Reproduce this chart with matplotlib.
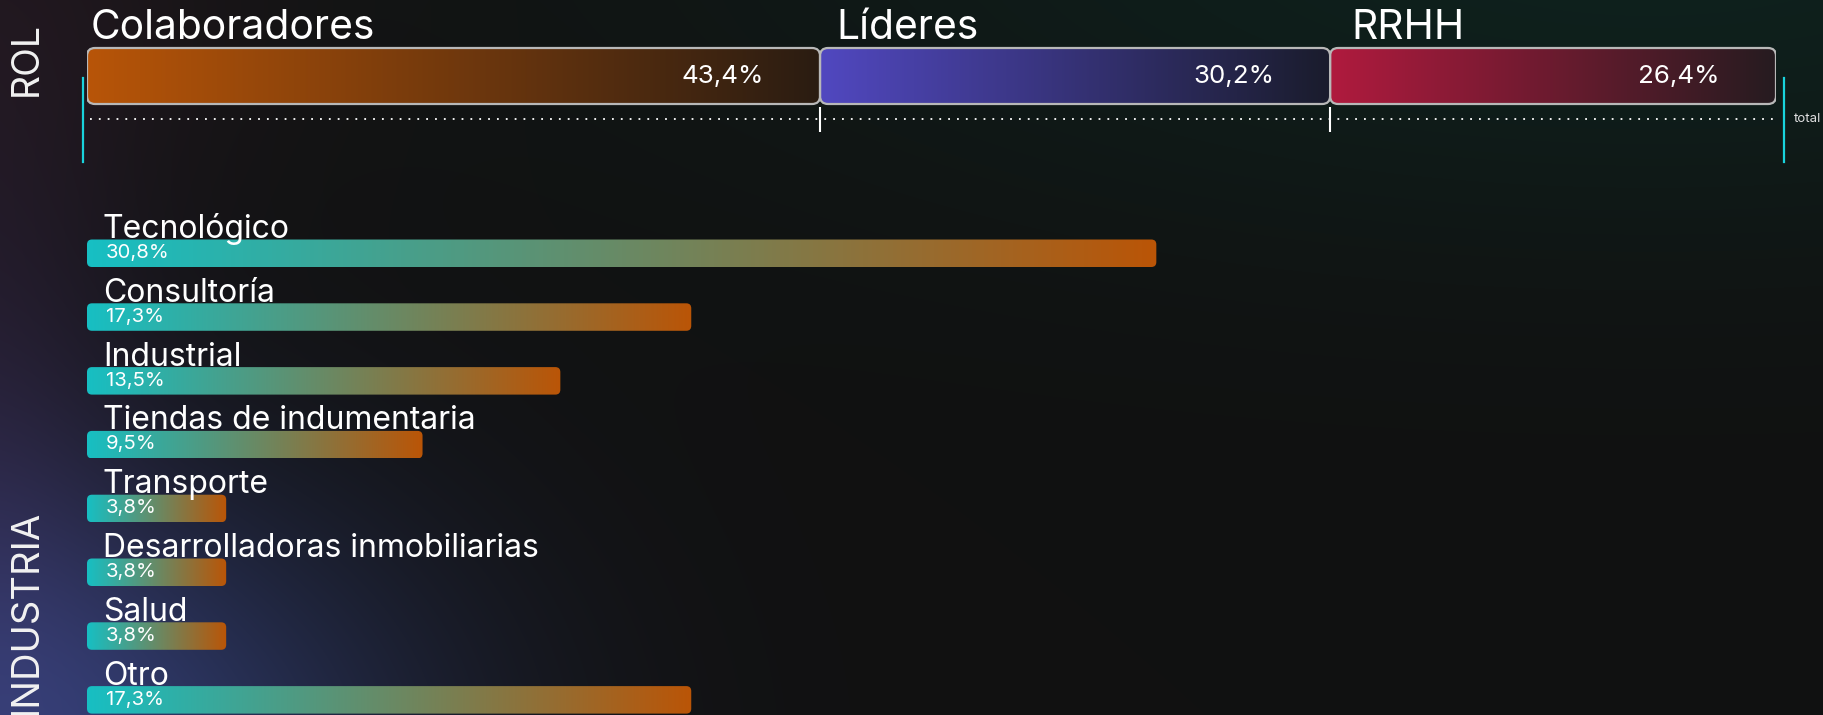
import numpy as np
import matplotlib
matplotlib.use('Agg')
import matplotlib.pyplot as plt
from matplotlib.patches import FancyBboxPatch
from matplotlib.colors import LinearSegmentedColormap
import matplotlib.transforms as mtransforms

plt.rcParams['font.family'] = ['Inter', 'DejaVu Sans']

# ---------------- data ----------------
rol_labels = ['Colaboradores', 'Líderes', 'RRHH']
rol_values = [43.4, 30.2, 26.4]
rol_colors = ['#b85508', '#5148c0', '#b01a3e']
rol_end_colors = ['#2a1c12', '#1a1c2c', '#261c20']

ind_labels = ['Tecnológico', 'Consultoría', 'Industrial', 'Tiendas de indumentaria',
              'Transporte', 'Desarrolladoras inmobiliarias', 'Salud', 'Otro']
ind_values = [30.8, 17.3, 13.5, 9.5, 3.8, 3.8, 3.8, 17.3]
ind_colors = ['#17bfc3', '#ba5507']

def fmt(v):
    return f'{v:.1f}%'.replace('.', ',')

W, H, DPI = 1824, 715, 100
fig = plt.figure(figsize=(W / DPI, H / DPI), dpi=DPI)
fig.patch.set_facecolor('#111111')


def fax(x0, y0, x1, y1):
    return fig.add_axes([x0 / W, 1 - y1 / H, (x1 - x0) / W, (y1 - y0) / H])


def off(ax, dx=0, dy=0):
    return mtransforms.offset_copy(ax.transData, fig=fig, x=dx, y=dy, units='dots')

# ---------------- background ----------------
bg = fax(0, 0, W, H)
yy, xx = np.mgrid[0:H, 0:W]
img = np.ones((H, W, 3)) * 17 / 255


def blob(cx, cy, sx, sy, col):
    g = np.exp(-(((xx - cx) / sx) ** 2 + ((yy - cy) / sy) ** 2) / 2)
    return g[..., None] * np.array(col, dtype=float)[None, None, :] / 255


img += blob(40, 760, 270, 200, (30, 42, 92))
img += blob(-40, 430, 120, 260, (18, 10, 26))
img += blob(-20, 0, 220, 160, (12, 4, 8))
img += blob(1650, -60, 650, 210, (-3, 16, 12))
img = np.clip(img, 0, 1)
bg.imshow(img, extent=(0, W, H, 0), aspect='auto', zorder=0, interpolation='bilinear')
bg.set_xlim(0, W)
bg.set_ylim(H, 0)
bg.axis('off')

fig.text(27 / W, 1 - 59 / H, 'ROL', rotation=90, ha='center', va='center',
         size=27, color='#f2f2f2')
fig.text(27 / W, 1 - 510 / H, 'INDUSTRIA', rotation=90, ha='center', va='top',
         size=27.5, color='#f2f2f2')

# ---------------- ROL (stacked 100% bar) ----------------
X0, X1 = 87, 1776
ax = fax(X0, 0, X1, 200)
pxx = (X1 - X0) / 100.0
lefts = np.concatenate([[0], np.cumsum(rol_values)[:-1]])
bar_top, bar_h = 48, 56
label_dx = [4, 16, 21]
for l, v, lab, c0, c1, dx in zip(lefts, rol_values, rol_labels, rol_colors, rol_end_colors, label_dx):
    cmap = LinearSegmentedColormap.from_list('g', [c0, c1])
    patch = FancyBboxPatch((l, bar_top), v, bar_h,
                           boxstyle=f'round,pad=0,rounding_size={8 / pxx}',
                           mutation_aspect=pxx, facecolor='none',
                           edgecolor='#b8b8b8', lw=1.6, zorder=3)
    ax.add_patch(patch)
    im = ax.imshow(np.linspace(0, 1, 256)[None, :], cmap=cmap,
                   extent=(l, l + v, bar_top + bar_h, bar_top),
                   aspect='auto', zorder=2, interpolation='bilinear')
    im.set_clip_path(patch)
    ax.text(l, 39, lab, transform=off(ax, dx), ha='left', va='baseline',
            size=29.3, color='#ffffff')
    ax.text(l + v, 83, fmt(v), transform=off(ax, -56), ha='right', va='baseline',
            size=18.7, color='#ffffff')

ax.plot([0, 100], [119, 119], color='white', lw=1.3, linestyle=(0, (1, 3.9)),
        transform=off(ax, 3), clip_on=False, zorder=2)
ax.vlines(np.cumsum(rol_values)[:-1], 107, 132, color='white', lw=1.5, zorder=4)
ax.plot([0, 0], [78, 162], color='#19d3dc', lw=1.6, transform=off(ax, -4), clip_on=False)
ax.plot([100, 100], [78, 162], color='#19d3dc', lw=1.6, transform=off(ax, 8), clip_on=False)
ax.text(100, 119, 'total', transform=off(ax, 18), ha='left', va='center',
        size=9.5, color='#e0e0e0')
ax.set_xlim(0, 100)
ax.set_ylim(200, 0)
ax.axis('off')

# ---------------- INDUSTRIA (horizontal bars) ----------------
IX0 = 87
ipx = 34.45          # pixels per percentage point
pad = 0.24           # bar starts slightly before zero
ax2 = fax(IX0, 180, W, H)
row0_top, step, bh = 239.5, 63.8, 27.5
cmap2 = LinearSegmentedColormap.from_list('ind', ind_colors)
for i, (lab, v) in enumerate(zip(ind_labels, ind_values)):
    top = row0_top + i * step
    patch = FancyBboxPatch((-pad, top), v + pad, bh,
                           boxstyle=f'round,pad=0,rounding_size={5 / ipx}',
                           mutation_aspect=ipx, facecolor='none', edgecolor='none', zorder=3)
    ax2.add_patch(patch)
    im = ax2.imshow(np.linspace(0, 1, 256)[None, :], cmap=cmap2,
                    extent=(-pad, v, top + bh, top), aspect='auto', zorder=2,
                    interpolation='bilinear')
    im.set_clip_path(patch)
    ax2.text(-pad, top - 1.5, lab, transform=off(ax2, 16), ha='left', va='baseline',
             size=23, color='#ffffff', zorder=5)
    ax2.text(-pad, top + 18.5, fmt(v), transform=off(ax2, 19), ha='left', va='baseline',
             size=14.6, color='#ffffff', zorder=5)
ax2.set_xlim(-pad, -pad + (W - IX0) / ipx)
ax2.set_ylim(H, 180)
ax2.axis('off')

fig.savefig('out.png', dpi=DPI, facecolor=fig.get_facecolor())
